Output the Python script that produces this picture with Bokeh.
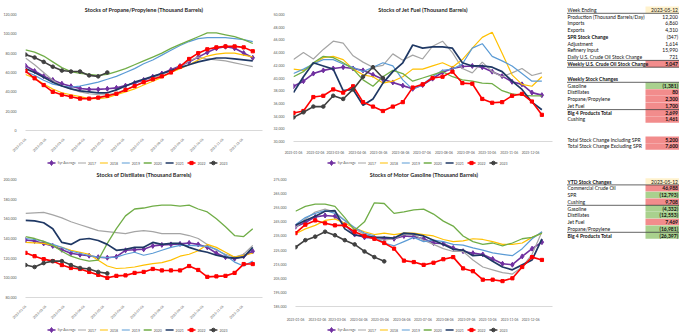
import pandas as pd
from math import pi
from bokeh.plotting import figure
from bokeh.layouts import row, column
from bokeh.models import (Range1d, FixedTicker, DatetimeTickFormatter, NumeralTickFormatter)
from bokeh.core.properties import value
from bokeh.embed import file_html
from bokeh.resources import INLINE

week_dates = pd.date_range("2023-01-06", periods=26, freq="14D")
tick_labels = ["2023-01-06", "2023-02-06", "2023-03-06", "2023-04-06", "2023-05-06", "2023-06-06",
               "2023-07-06", "2023-08-06", "2023-09-06", "2023-10-06", "2023-11-06", "2023-12-06"]
series_names = ["5yr Average", "2017", "2018", "2019", "2020", "2021", "2022", "2023"]

propane_avg = [67000, 61500, 56200, 52300, 48400, 45800, 43500, 42500, 42500, 43200, 44100, 46400, 49100,
               52300, 55600, 58900, 62800, 66700, 71000, 75900, 80800, 85000, 86700, 85000, 80100, 75200]
propane_2017 = [75000, 68000, 60000, 52000, 46000, 43000, 40000, 38000, 37000, 37000, 39000, 42000, 46000,
                50000, 54000, 58000, 62000, 66000, 72000, 76000, 74000, 73000, 72000, 70000, 68000, 66000]
propane_2018 = [58000, 54000, 48000, 43000, 39000, 37000, 35000, 33000, 33000, 34000, 37000, 40000, 43000,
                47000, 51000, 55000, 60000, 64000, 68000, 73000, 77000, 79000, 80000, 80000, 78000, 76000]
propane_2019 = [61000, 57000, 52000, 48000, 46000, 45000, 46000, 48000, 50000, 53000, 56000, 60000, 64000,
                69000, 73000, 78000, 83000, 88000, 92000, 95000, 96000, 96000, 96000, 95000, 94000, 92000]
propane_2020 = [83500, 81000, 77000, 71000, 65000, 61000, 59000, 58000, 57000, 58000, 61000, 64000, 68000,
                72000, 76000, 80000, 85000, 89000, 93000, 97000, 101000, 101000, 99000, 97000, 94000, 90000]
propane_2021 = [64000, 60000, 55000, 50000, 46000, 43000, 41000, 40000, 39000, 39000, 42000, 46000, 50000,
                53000, 56000, 59000, 62000, 65000, 68000, 71000, 73000, 75000, 75000, 74000, 73000, 72000]
propane_2022 = [61500, 54000, 47000, 40000, 37000, 35000, 33000, 33000, 34000, 36000, 38000, 42000, 46000,
                50000, 53000, 56000, 60000, 66000, 74000, 80000, 84000, 86000, 87000, 87000, 86000, 82000]
propane_2023 = [78500, 75500, 71000, 66000, 62000, 61000, 61000, 57000, 56000, 60000]

jet_avg = [38700, 39500, 40700, 41200, 41500, 41700, 41500, 41200, 40500, 39800, 39300, 38800, 38300,
           38900, 39900, 40900, 41500, 41800, 41900, 41700, 41000, 40300, 39400, 39000, 37700, 37300]
jet_2017 = [42900, 44000, 43000, 44500, 45800, 45500, 43500, 42500, 41700, 42000, 43800, 42800, 43600,
            43000, 45000, 45800, 44000, 41500, 40800, 42500, 41000, 40200, 40800, 41500, 40400, 40800]
jet_2018 = [41400, 41200, 42200, 43200, 43400, 42900, 41400, 40500, 40200, 39200, 39500, 40200, 41400,
            41400, 41900, 42400, 41700, 42900, 44700, 46400, 47200, 43900, 40500, 39000, 38700, 40200]
jet_2019 = [40700, 41400, 42200, 42900, 42900, 42200, 41700, 41000, 41700, 42400, 41900, 39700, 38200,
            39000, 40200, 41200, 41400, 42200, 44700, 45400, 43400, 42700, 41900, 40700, 39500, 39500]
jet_2020 = [40200, 41000, 42400, 43400, 43200, 42400, 41400, 39700, 38700, 40200, 41200, 40700, 39500,
            40000, 40500, 41000, 40200, 39700, 39500, 39200, 39100, 38000, 37500, 37300, 37200, 37200]
jet_2021 = [37700, 40200, 42400, 41900, 41400, 38000, 38200, 35700, 36700, 39200, 41000, 42400, 45200,
            44700, 44900, 44900, 44700, 42400, 41900, 41900, 41700, 41000, 39500, 38200, 36200, 35000]
jet_2022 = [34500, 34800, 37000, 37200, 38200, 37700, 38700, 36200, 35500, 34800, 35500, 36200, 38500,
            39000, 40000, 40200, 41000, 39200, 39100, 36700, 36100, 36200, 37200, 37500, 36300, 34200]
jet_2023 = [33800, 34600, 35500, 35500, 37200, 36700, 38200, 40200, 41700, 40000]

dist_avg = [138500, 137500, 135000, 132500, 128500, 125000, 123500, 122500, 121000, 120500, 121500, 128000, 128500,
            129000, 132500, 133500, 134000, 134500, 135500, 134000, 131000, 125000, 121000, 119500, 122000, 127000]
dist_2017 = [165500, 166000, 166500, 164000, 161000, 157000, 154000, 151000, 148000, 147000, 146000, 145000, 147000,
             148000, 147000, 145000, 145000, 145000, 143000, 140000, 134000, 128000, 124000, 121000, 124000, 133000]
dist_2018 = [136000, 135500, 135000, 133000, 131000, 128000, 126000, 124000, 118000, 112000, 109500, 110000, 111000,
             113000, 114500, 115500, 118000, 122000, 124000, 127500, 134000, 131000, 126000, 121000, 123000, 125000]
dist_2019 = [140000, 139000, 137000, 134000, 131000, 127000, 125000, 122500, 121000, 120500, 121000, 124000, 126000,
             123000, 125000, 128000, 131000, 133000, 133000, 132500, 132000, 129000, 123000, 116000, 112000, 117000]
dist_2020 = [142000, 140000, 137000, 133000, 127000, 122000, 119000, 117000, 118000, 135000, 150000, 163000, 170000,
             171000, 173000, 174000, 174000, 173000, 174000, 170000, 167000, 160000, 152000, 143000, 142000, 150000]
dist_2021 = [158500, 158000, 156000, 150000, 136000, 134000, 139000, 140000, 138000, 134000, 128000, 129000, 131000,
             131000, 136000, 134000, 135000, 135000, 131000, 128000, 126000, 123000, 121000, 120000, 121000, 131000]
dist_2022 = [125400, 122000, 119000, 117000, 113000, 110000, 109000, 106000, 103000, 100000, 102000, 102500, 105000,
             106000, 109000, 107500, 107500, 107500, 112000, 108000, 101000, 101500, 102000, 105000, 114000, 114000]
dist_2023 = [113000, 111000, 115000, 117000, 117000, 113000, 110000, 109000, 106000, 104500]

gas_avg = [241500, 244500, 248500, 249500, 249000, 243000, 236000, 234000, 233500, 233000, 233000, 235000, 234500,
           233000, 230000, 229500, 226500, 224200, 222800, 221900, 218700, 215300, 214600, 220500, 226000, 230600]
gas_2017 = [241000, 247000, 252000, 254000, 252000, 246000, 240000, 236000, 234000, 232000, 233000, 236000, 236000,
            232000, 229000, 226000, 224000, 224000, 218000, 213000, 211000, 209000, 208000, 213000, 222000, 238000]
gas_2018 = [236500, 240000, 242500, 246000, 247000, 244000, 240500, 238000, 236000, 237000, 236000, 237000, 237000,
            236000, 235000, 232500, 231000, 231500, 233000, 232500, 231000, 229000, 229000, 230000, 234000, 237000]
gas_2019 = [243000, 248000, 251000, 253000, 251000, 246000, 241000, 237000, 235000, 230000, 228000, 231000, 234000,
            231000, 232000, 231000, 229000, 228500, 226500, 225000, 223000, 222000, 221000, 226000, 233000, 238000]
gas_2020 = [252500, 256000, 257500, 257500, 256000, 248000, 239000, 245000, 258500, 258000, 251000, 252000, 253500,
            254000, 250500, 245500, 242000, 235000, 231000, 229000, 230000, 228000, 230000, 233000, 234000, 237000]
gas_2021 = [242500, 246000, 249000, 252500, 253000, 240000, 235500, 235000, 234000, 234000, 233500, 237000, 236500,
            235000, 232000, 229000, 225500, 225000, 221000, 221500, 217000, 213000, 211000, 214500, 218000, 233000]
gas_2022 = [237000, 243000, 246000, 244000, 242500, 242500, 238000, 235000, 233000, 230000, 226000, 217500, 216500,
            214500, 216000, 218500, 220000, 212000, 210000, 204000, 204000, 203000, 205000, 213000, 220000, 218000]
gas_2023 = [227000, 232000, 234500, 238000, 235500, 232000, 229000, 224000, 220000, 217000]

weekly_labels = ["Week Ending", "Production (Thousand Barrels/Day)", "Imports", "Exports", "SPR Stock Change",
                 "Adjustment", "Refinery Input", "Daily U.S. Crude Oil Stock Change",
                 "Weekly U.S. Crude Oil Stock Change"]
weekly_values = ["2023-05-12", "12,200", "6,860", "4,310", "(347)", "1,614", "15,990", "721", "5,047"]
change_labels = ["Weekly Stock Changes", "Gasoline", "Distillates", "Propane/Propylene", "Jet Fuel",
                 "Big 4 Products Total", "Cushing"]
change_values = ["", "(1,381)", "80", "2,300", "1,700", "2,699", "1,461"]
total_labels = ["Total Stock Change Including SPR", "Total Stock Change Excluding SPR"]
total_values = ["5,200", "7,600"]
ytd_labels = ["YTD Stock Changes", "Commercial Crude Oil", "SPR", "Cushing", "Gasoline", "Distillates",
              "Jet Fuel", "Propane/Propylene", "Big 4 Products Total"]
ytd_values = ["2023-05-12", "46,988", "(12,793)", "9,708", "(4,332)", "(12,553)", "7,469", "(16,981)", "(26,397)"]

FONT = "Lato"
series_colors = ["#7030A0", "#A5A5A5", "#FFC000", "#5B9BD5", "#70AD47", "#1F3864", "#FF0000", "#404040"]
series_markers = ["diamond", None, None, None, None, None, "square", "circle"]
series_msize = [5, 0, 0, 0, 0, 0, 3.2, 3.6]
series_widths = [1.6, 1.2, 1.2, 1.2, 1.3, 1.7, 1.6, 1.6]
RED = "#F28C8C"
GREEN = "#A9D18E"
YELLOW = "#FFF2CC"
CHART_H = 156
LEGEND_H = 11


def bare_figure(width, height, xr, yr):
    f = figure(width=width, height=height, x_range=Range1d(*xr), y_range=Range1d(*yr),
               output_backend="svg", toolbar_location=None, tools="",
               x_axis_location=None, y_axis_location=None,
               min_border_left=0, min_border_right=0, min_border_top=0, min_border_bottom=0)
    f.frame_align = False
    f.outline_line_color = None
    f.grid.visible = False
    return f


def build_chart(title, values, y_start, y_end, y_step, rotated, width, left, top, bottom, standoff):
    p = figure(width=width, height=CHART_H, x_axis_type="datetime",
               x_range=Range1d(pd.Timestamp("2023-01-06"), pd.Timestamp("2024-01-06")),
               y_range=Range1d(y_start, y_end),
               output_backend="svg", toolbar_location=None, tools="",
               min_border_left=left, min_border_right=8, min_border_top=top, min_border_bottom=bottom)
    p.frame_align = False
    p.outline_line_color = None
    p.grid.visible = False
    p.title.text = title
    p.title.align = "center"
    p.title.text_font = FONT
    p.title.text_font_size = "5.5px"
    p.title.text_font_style = "bold"
    p.title.text_color = "#262626"
    p.title.standoff = 3

    tick_ms = [pd.Timestamp(t).timestamp() * 1000 for t in tick_labels]
    xa = p.xaxis[0]
    xa.ticker = FixedTicker(ticks=tick_ms)
    fmt = "%Y-%m-%d"
    xa.formatter = DatetimeTickFormatter(days=fmt, months=fmt, years=fmt)
    xa.axis_line_color = "#D9D9D9"
    xa.major_tick_line_color = None
    xa.minor_tick_line_color = None
    xa.major_label_text_font = FONT
    xa.major_label_text_font_size = "3.3px"
    xa.major_label_text_color = "#595959"
    xa.major_label_standoff = standoff
    if rotated:
        xa.major_label_orientation = pi / 4

    ya = p.yaxis[0]
    ya.ticker = FixedTicker(ticks=list(range(y_start, y_end + 1, y_step)))
    ya.formatter = NumeralTickFormatter(format="0,0")
    ya.axis_line_color = None
    ya.major_tick_line_color = None
    ya.minor_tick_line_color = None
    ya.major_label_text_font = FONT
    ya.major_label_text_font_size = "3.5px"
    ya.major_label_text_color = "#595959"
    ya.major_label_standoff = 3

    for color, marker, msize, lw, ys in zip(series_colors, series_markers, series_msize, series_widths, values):
        xs = list(week_dates[:len(ys)])
        p.line(xs, ys, line_color=color, line_width=lw)
        if marker:
            p.scatter(xs, ys, marker=marker, size=msize, fill_color=color, line_color=color)
    return p


def build_legend(width, x_start):
    lg = bare_figure(width, LEGEND_H, (0, width), (0, LEGEND_H))
    mid = LEGEND_H / 2
    offsets = [0] + [30.5 + 21.9 * i for i in range(7)]
    for off, name, color, marker, msize, lw in zip(offsets, series_names, series_colors, series_markers,
                                                   series_msize, series_widths):
        x = x_start + off
        lg.segment(x0=[x], y0=[mid], x1=[x + 8], y1=[mid], line_color=color, line_width=lw)
        if marker:
            lg.scatter(x=[x + 4], y=[mid], marker=marker, size=msize, fill_color=color, line_color=color)
        lg.text(x=[x + 10], y=[mid], text=[name], text_baseline="middle", text_align="left",
                text_font=value(FONT), text_font_size=value("3.5px"), text_color="#595959")
    return lg


def build_table(blocks, lines):
    t = bare_figure(120, 167, (0, 120), (167, 0))
    for ys, labels, vals, bolds, fills in blocks:
        for y, lab, v, b, f in zip(ys, labels, vals, bolds, fills):
            if f:
                t.quad(left=85, right=118.5, top=y - 3.35, bottom=y + 3.35, fill_color=f, line_color=None)
            t.text(x=[7], y=[y], text=[lab], text_baseline="middle", text_align="left",
                   text_font=value(FONT), text_font_size=value("5px"),
                   text_font_style=value("bold" if b else "normal"), text_color="#111111")
            t.text(x=[117.5], y=[y], text=[v], text_baseline="middle", text_align="right",
                   text_font=value(FONT), text_font_size=value("5px"),
                   text_font_style=value("bold" if (f and f != YELLOW) else "normal"), text_color="#111111")
    for y in lines:
        t.segment(x0=[6.5], y0=[y], x1=[118.5], y1=[y], line_color="#222222", line_width=0.7)
    return t


propane = build_chart("Stocks of Propane/Propylene (Thousand Barrels)",
                      [propane_avg, propane_2017, propane_2018, propane_2019, propane_2020,
                       propane_2021, propane_2022, propane_2023],
                      0, 120000, 20000, True, 270, 18, 14, 19, 2)
jet = build_chart("Stocks of Jet Fuel (Thousand Barrels)",
                  [jet_avg, jet_2017, jet_2018, jet_2019, jet_2020, jet_2021, jet_2022, jet_2023],
                  30000, 50000, 2000, False, 290, 20, 14, 8, 3)
dist = build_chart("Stocks of Distillates (Thousand Barrels)",
                   [dist_avg, dist_2017, dist_2018, dist_2019, dist_2020, dist_2021, dist_2022, dist_2023],
                   80000, 200000, 20000, True, 270, 18, 12, 22, 2)
gas = build_chart("Stocks of Motor Gasoline (Thousand Barrels)",
                  [gas_avg, gas_2017, gas_2018, gas_2019, gas_2020, gas_2021, gas_2022, gas_2023],
                  185000, 275000, 10000, False, 290, 22, 12, 12, 5)

RH = 6.75
top_table = build_table(
    [([9.3 + RH * i for i in range(9)], weekly_labels, weekly_values,
      [False, False, False, False, True, False, False, False, True],
      [YELLOW, None, None, None, None, None, None, None, RED]),
     ([9.3 + RH * (i + 10.25) for i in range(7)], change_labels, change_values,
      [True, False, False, False, False, True, False],
      [None, GREEN, RED, RED, RED, RED, RED]),
     ([9.3 + RH * (i + 19.25) for i in range(2)], total_labels, total_values,
      [False, False], [RED, RED])],
    [12.8, 59.9, 66.7, 81.8, 109.1])
ytd_table = build_table(
    [([14 + RH * i for i in range(9)], ytd_labels, ytd_values,
      [True, False, False, False, False, False, False, False, True],
      [YELLOW, RED, GREEN, RED, GREEN, GREEN, RED, GREEN, GREEN])],
    [17.4, 37.8, 64.8])

layout = column(
    row(column(propane, build_legend(270, 47)), column(jet, build_legend(290, 57)), top_table),
    row(column(dist, build_legend(270, 47)), column(gas, build_legend(290, 57)), ytd_table))

open("out.html", "w").write(file_html(layout, INLINE))
